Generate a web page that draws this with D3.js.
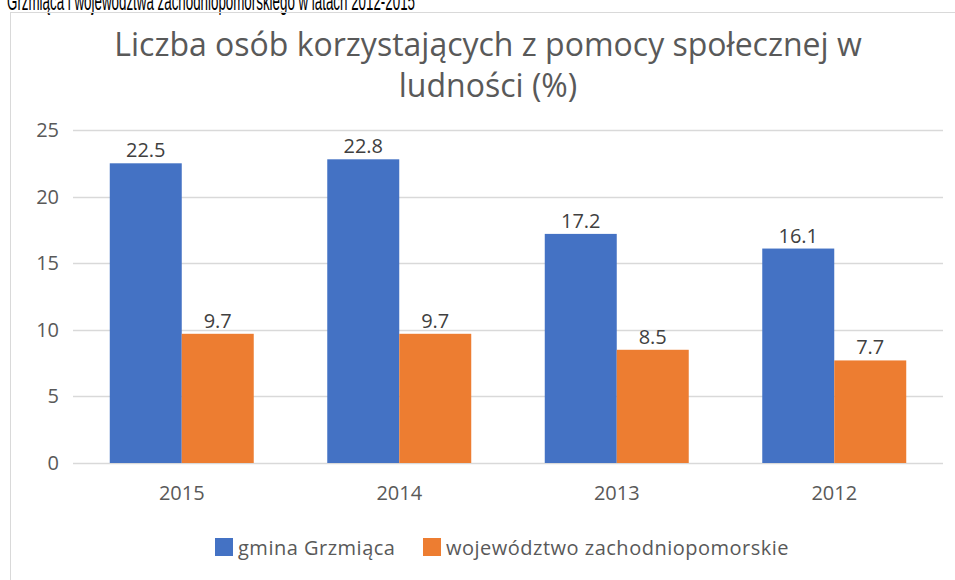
<!DOCTYPE html>
<html>
<head>
<meta charset="utf-8">
<script src="https://cdn.jsdelivr.net/npm/d3@7"></script>
<style>
  body { margin: 0; background: #fff; }
  svg { display: block; font-family: "Open Sans", "Noto Sans", sans-serif; }
</style>
</head>
<body>
<div id="chart"></div>
<script>
// chart values
var years = ['2015', '2014', '2013', '2012'];
var seriesNames = ['gmina Grzmiąca', 'województwo zachodniopomorskie'];
var gmina = [22.5, 22.8, 17.2, 16.1];
var wojewodztwo = [9.7, 9.7, 8.5, 7.7];
var yTicks = [0, 5, 10, 15, 20, 25];
var titleLines = ['Liczba osób korzystających z pomocy społecznej w', 'ludności (%)'];
var caption = 'Grzmiąca i województwa zachodniopomorskiego w latach 2012-2015';

var colors = ['#4472C4', '#ED7D31'];
var textColor = '#595959';

var width = 955, height = 580;
var margins = { top: 130, right: 12, bottom: 117, left: 73 };
var plotWidth = 870;
var plotBottom = 463;

var rows = years.map(function (y, i) {
  return { year: y, values: [gmina[i], wojewodztwo[i]] };
});

var svg = d3.select('#chart').append('svg')
  .attr('width', width)
  .attr('height', height);

// caption cut off at the top of the page (as in the source document)
svg.append('text')
  .attr('x', 7)
  .attr('y', 10)
  .attr('font-family', '"Liberation Sans Narrow", "Liberation Sans", sans-serif')
  .attr('font-size', 26)
  .attr('fill', '#000')
  .attr('textLength', 408)
  .attr('lengthAdjust', 'spacingAndGlyphs')
  .text(caption);

// chart frame
svg.append('rect')
  .attr('x', 10.5)
  .attr('y', 12.5)
  .attr('width', 960)
  .attr('height', 600)
  .attr('fill', 'none')
  .attr('stroke', '#d9d9d9');

// title
svg.selectAll('.title')
  .data(titleLines)
  .enter()
  .append('text')
  .attr('class', 'title')
  .attr('x', 488)
  .attr('y', function (d, i) { return 56 + i * 41; })
  .attr('text-anchor', 'middle')
  .attr('font-size', 32)
  .attr('fill', textColor)
  .text(function (d) { return d; });

var x0 = d3.scaleBand()
  .domain(years)
  .range([margins.left, margins.left + plotWidth])
  .paddingInner(0.338)
  .paddingOuter(0.169);

var x1 = d3.scaleBand()
  .domain([0, 1])
  .range([0, x0.bandwidth()]);

var y = d3.scaleLinear()
  .domain([0, 25])
  .range([plotBottom, margins.top]);

// gridlines
svg.append('g')
  .selectAll('line')
  .data(yTicks)
  .enter()
  .append('line')
  .attr('x1', margins.left)
  .attr('x2', margins.left + plotWidth)
  .attr('y1', function (d) { return Math.round(y(d)) + 0.5; })
  .attr('y2', function (d) { return Math.round(y(d)) + 0.5; })
  .attr('stroke', '#d9d9d9')
  .attr('stroke-width', 1.5);

// y tick labels
svg.append('g')
  .selectAll('text')
  .data(yTicks)
  .enter()
  .append('text')
  .attr('x', 59)
  .attr('y', function (d) { return y(d) + 7; })
  .attr('text-anchor', 'end')
  .attr('font-size', 20)
  .attr('fill', textColor)
  .text(function (d) { return d; });

// bars
var groups = svg.append('g')
  .selectAll('g')
  .data(rows)
  .enter()
  .append('g')
  .attr('transform', function (d) { return 'translate(' + x0(d.year) + ',0)'; });

groups.selectAll('rect')
  .data(function (d) { return d.values; })
  .enter()
  .append('rect')
  .attr('x', function (d, i) { return x1(i); })
  .attr('width', x1.bandwidth())
  .attr('y', function (d) { return y(d); })
  .attr('height', function (d) { return plotBottom - y(d); })
  .attr('fill', function (d, i) { return colors[i]; });

groups.selectAll('.value')
  .data(function (d) { return d.values; })
  .enter()
  .append('text')
  .attr('class', 'value')
  .attr('x', function (d, i) { return x1(i) + x1.bandwidth() / 2; })
  .attr('y', function (d) { return y(d) - 6; })
  .attr('text-anchor', 'middle')
  .attr('font-size', 20)
  .attr('fill', '#404040')
  .text(function (d) { return d.toFixed(1); });

// x labels
svg.append('g')
  .selectAll('text')
  .data(years)
  .enter()
  .append('text')
  .attr('x', function (d) { return x0(d) + x0.bandwidth() / 2; })
  .attr('y', 500)
  .attr('text-anchor', 'middle')
  .attr('font-size', 20)
  .attr('fill', textColor)
  .text(function (d) { return d; });

// legend
var legendX = [215, 423];
var legend = svg.append('g')
  .selectAll('g')
  .data(seriesNames)
  .enter()
  .append('g')
  .attr('transform', function (d, i) { return 'translate(' + legendX[i] + ',538)'; });

legend.append('rect')
  .attr('width', 18)
  .attr('height', 18)
  .attr('fill', function (d, i) { return colors[i]; });

legend.append('text')
  .attr('x', 23)
  .attr('y', 17)
  .attr('font-size', 20)
  .attr('letter-spacing', 0.5)
  .attr('fill', textColor)
  .text(function (d) { return d; });
</script>
</body>
</html>
